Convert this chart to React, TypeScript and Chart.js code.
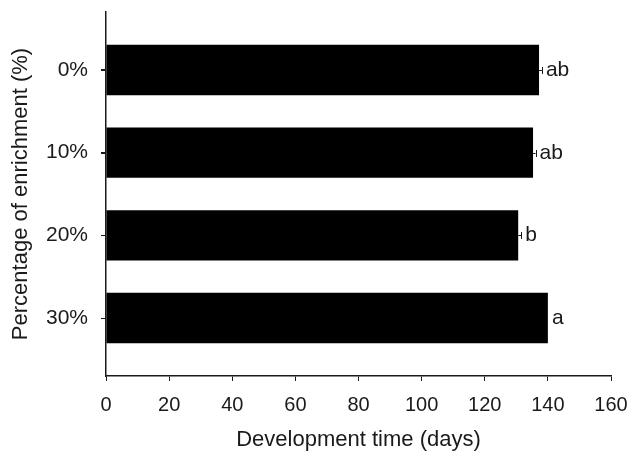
import { useEffect, useRef } from 'react';
import { Chart, registerables } from 'chart.js';

Chart.register(...registerables);

// ---- data ----
const categories = ['0%', '10%', '20%', '30%'];
const devTime = [137.2, 135.3, 130.6, 140.0];
const devTimeSE = [0.9, 0.8, 1.0, 0];
const groupLetters = ['ab', 'ab', 'b', 'a'];
const xTicks = [0, 20, 40, 60, 80, 100, 120, 140, 160];

const FONT = "'Liberation Sans', Arial, Helvetica, sans-serif";
const INK = '#1a1a1a';
const TICK_LEN = 5;

const errorAndLetters = {
  id: 'errorAndLetters',
  afterDraw(chart: any) {
    const { ctx, chartArea } = chart;
    const x = chart.scales.x;
    const y = chart.scales.y;
    ctx.save();
    ctx.strokeStyle = INK;
    ctx.lineWidth = 1;
    // category tick marks on the y axis (outside)
    const axisX = Math.round(chartArea.left);
    ctx.beginPath();
    categories.forEach((_, i) => {
      const yp = Math.round(y.getPixelForValue(i)) + 0.5;
      ctx.moveTo(axisX - TICK_LEN, yp);
      ctx.lineTo(axisX, yp);
    });
    ctx.stroke();

    ctx.fillStyle = INK;
    ctx.font = `21px ${FONT}`;
    ctx.textBaseline = 'middle';
    ctx.textAlign = 'left';
    devTime.forEach((v, i) => {
      const yc = Math.round(y.getPixelForValue(i)) + 0.5;
      const e = devTimeSE[i];
      const x0 = x.getPixelForValue(v);
      const xe = x.getPixelForValue(v + e);
      if (e > 0) {
        ctx.beginPath();
        ctx.moveTo(x0, yc);
        ctx.lineTo(xe, yc);
        ctx.moveTo(Math.round(xe) + 0.5, yc - 3.5);
        ctx.lineTo(Math.round(xe) + 0.5, yc + 3.5);
        ctx.stroke();
      }
      ctx.fillText(groupLetters[i], xe + 4, yc);
    });
    ctx.restore();
  },
};

export default function App() {
  const canvasRef = useRef<HTMLCanvasElement | null>(null);

  useEffect(() => {
    if (!canvasRef.current) return;
    const chart = new Chart(canvasRef.current, {
      type: 'bar',
      data: {
        datasets: [
          {
            data: devTime.map((v, i) => ({ x: v, y: i })),
            backgroundColor: '#000000',
            borderWidth: 0,
            barPercentage: 0.61,
            categoryPercentage: 1,
          },
        ],
      },
      options: {
        indexAxis: 'y',
        responsive: false,
        animation: false,
        devicePixelRatio: 1,
        layout: { padding: { top: 12, right: 19, left: 0, bottom: 0 } },
        plugins: {
          legend: { display: false },
          tooltip: { enabled: false },
        },
        scales: {
          x: {
            type: 'linear',
            min: 0,
            max: 160,
            afterBuildTicks: (s: any) => {
              s.ticks = xTicks.map((v) => ({ value: v }));
            },
            afterFit: (s: any) => {
              s.height = 79;
              s.paddingLeft = 0;
              s.paddingRight = 0;
            },
            ticks: {
              color: INK,
              font: { size: 20, family: FONT },
              padding: 12,
              maxRotation: 0,
            },
            grid: {
              display: true,
              drawOnChartArea: false,
              drawTicks: true,
              tickLength: TICK_LEN,
              color: INK,
              tickColor: INK,
            },
            border: { display: true, color: INK, width: 1.5 },
            title: {
              display: true,
              text: 'Development time (days)',
              color: INK,
              font: { size: 22, family: FONT },
              padding: 1.4,
            },
          },
          y: {
            type: 'linear',
            reverse: true,
            offset: false,
            min: -0.7,
            max: 3.7,
            afterBuildTicks: (s: any) => {
              s.ticks = categories.map((_, i) => ({ value: i }));
            },
            afterFit: (s: any) => {
              s.width = 106;
              s.paddingTop = 0;
              s.paddingBottom = 0;
            },
            ticks: {
              color: INK,
              font: { size: 21, family: FONT },
              padding: 13,
              callback: (v: any) => categories[v as number] ?? '',
            },
            grid: {
              display: true,
              offset: false,
              drawOnChartArea: false,
              drawTicks: true,
              tickLength: TICK_LEN,
              color: INK,
              tickColor: INK,
              lineWidth: 1,
            },
            border: { display: true, color: INK, width: 1.5 },
            title: {
              display: true,
              text: 'Percentage of enrichment (%)',
              color: INK,
              font: { size: 22, family: FONT },
              padding: 7.5,
            },
          },
        },
      },
      plugins: [errorAndLetters],
    });
    return () => chart.destroy();
  }, []);

  return (
    <div style={{ position: 'fixed', left: 0, top: 0, width: 630, height: 455, background: '#fff' }}>
      <canvas ref={canvasRef} width={630} height={455} />
    </div>
  );
}
